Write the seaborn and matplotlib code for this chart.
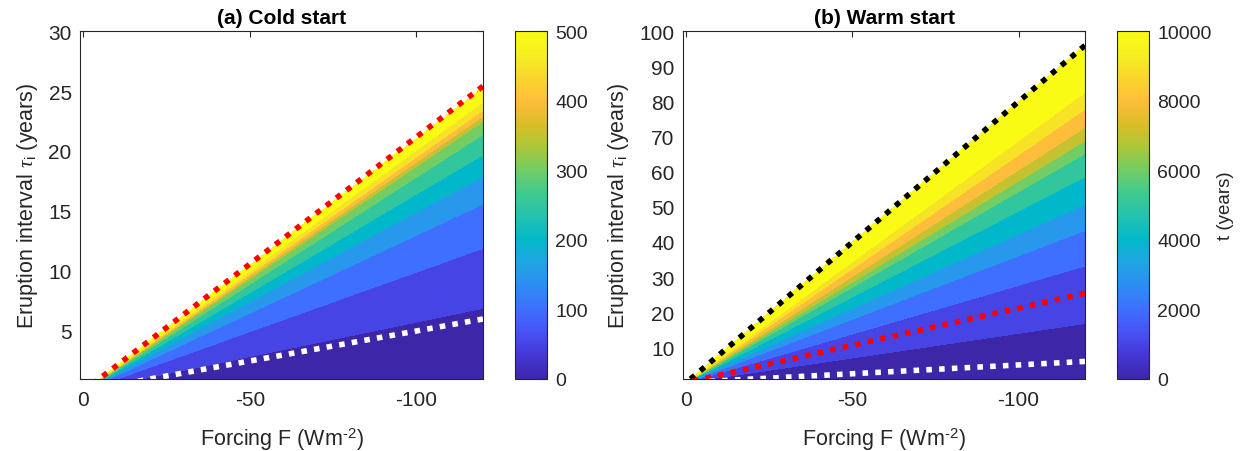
import numpy as np
import matplotlib
matplotlib.use("Agg")
import matplotlib.pyplot as plt
import seaborn as sns
from matplotlib.colors import LinearSegmentedColormap, Normalize
from matplotlib.cm import ScalarMappable

sns.set_theme(style="white")
plt.rcParams['font.family'] = ['Liberation Sans', 'DejaVu Sans']
plt.rcParams['axes.unicode_minus'] = False
plt.rcParams['mathtext.fontset'] = 'custom'
plt.rcParams['mathtext.rm'] = 'Liberation Sans'
plt.rcParams['mathtext.it'] = 'Liberation Serif:italic'

# contour levels and the tau where each level meets the right edge (F = -120)
f_edge = -120
levels_cold = [50, 100, 150, 200, 250, 300, 350, 400, 450, 500]
tau_edge_cold = [6.9, 11.9, 15.6, 17.9, 19.7, 21.4, 22.5, 22.9, 23.4, 24.1]
tau_top_cold = 25.3

levels_warm = [1000, 2000, 3000, 4000, 5000, 6000, 7000, 8000, 9000, 10000]
tau_edge_warm = [16.8, 33.2, 43.3, 50.7, 58.6, 65.2, 68.8, 72.6, 77.8, 82.6]
tau_top_warm = 95.9

# threshold lines, all through the origin
line_F = [0, -120]
black_tau = [0, 95.9]
red_tau = [0, 25.4]
white_tau = [0, 6.0]

# parula (subsampled)
parula_pts = [
    (0.2422, 0.1504, 0.6603), (0.2706, 0.2147, 0.8364), (0.2810, 0.3228, 0.9579),
    (0.2440, 0.4358, 0.9988), (0.1764, 0.5499, 0.9520), (0.1248, 0.6459, 0.8883),
    (0.0036, 0.7203, 0.7917), (0.1408, 0.7584, 0.6842), (0.2470, 0.7918, 0.5567),
    (0.4456, 0.8024, 0.3909), (0.6720, 0.7793, 0.2227), (0.8634, 0.7406, 0.1596),
    (0.9956, 0.7434, 0.2371), (0.9786, 0.8386, 0.1766), (0.9628, 0.9373, 0.1265),
    (0.9769, 0.9839, 0.0805),
]
parula = LinearSegmentedColormap.from_list("parula", parula_pts, N=256)
band_colors = [parula(i / 10) for i in range(11)]

F = np.linspace(-120, -0.01, 800)
tau = np.linspace(1, 100, 800)
FF, TT = np.meshgrid(F, tau)
ratio = TT / -FF


def field(levels, tau_edge, tau_top):
    xp = np.r_[0, np.array(tau_edge) / -f_edge, tau_top / -f_edge]
    fp = np.r_[0, levels, levels[-1] * 1.2]
    t = np.interp(ratio, xp, fp)
    return np.ma.masked_where(ratio > tau_top / -f_edge, t)


txt = (0.15, 0.15, 0.15)
fig = plt.figure(figsize=(12.48, 4.52), dpi=100)
ax1 = fig.add_axes([0.0641, 0.1593, 0.3229, 0.7699])
cax1 = fig.add_axes([0.4127, 0.1593, 0.0256, 0.7699])
ax2 = fig.add_axes([0.5473, 0.1593, 0.3221, 0.7699])
cax2 = fig.add_axes([0.8950, 0.1593, 0.0256, 0.7699])

panels = [
    (ax1, cax1, levels_cold, tau_edge_cold, tau_top_cold, "(a) Cold start", 30, 500),
    (ax2, cax2, levels_warm, tau_edge_warm, tau_top_warm, "(b) Warm start", 100, 10000),
]

for ax, cax, levels, tau_edge, tau_top, title, ymax, vmax in panels:
    t = field(levels, tau_edge, tau_top)
    ax.contourf(FF, TT, t, levels=[0] + levels + [levels[-1] * 10], colors=band_colors)
    ax.set_xlim(1, -120)
    ax.set_ylim(1, ymax)
    ax.set_xticks([0, -50, -100])
    if ymax == 30:
        ax.set_yticks([5, 10, 15, 20, 25, 30])
    else:
        ax.set_yticks(range(10, 101, 10))
    ax.set_title(title, fontsize=15, fontweight="bold", color="black", pad=6)
    ax.set_xlabel(r"Forcing F (Wm$^{\text{-2}}$)", fontsize=15.5, color=txt, labelpad=12)
    ax.set_ylabel(r"Eruption interval $\tau_{\rm i}$ (years)", fontsize=15.5, color=txt, labelpad=6)
    ax.tick_params(direction="in", top=True, right=True, length=4, width=0.8,
                   labelsize=15, colors=txt)
    ax.tick_params(axis="x", pad=8)
    ax.tick_params(axis="y", pad=6)
    for s in ax.spines.values():
        s.set_color(txt)
        s.set_linewidth(0.8)

    cb = fig.colorbar(ScalarMappable(norm=Normalize(0, vmax), cmap=parula), cax=cax)
    cb.set_ticks(np.linspace(0, vmax, 6))
    cax.tick_params(direction="in", length=4, width=0.8, labelsize=14, colors=txt, pad=6)
    cb.outline.set_edgecolor(txt)
    cb.outline.set_linewidth(0.8)

dots = (0, (1.0, 1.3))
lw = 4.0
sns.lineplot(x=line_F, y=red_tau, ax=ax1, color="red", lw=lw, linestyle=dots)
sns.lineplot(x=line_F, y=white_tau, ax=ax1, color="white", lw=lw, linestyle=dots)
sns.lineplot(x=line_F, y=black_tau, ax=ax2, color="black", lw=lw, linestyle=dots)
sns.lineplot(x=line_F, y=red_tau, ax=ax2, color="red", lw=lw, linestyle=dots)
sns.lineplot(x=line_F, y=white_tau, ax=ax2, color="white", lw=lw, linestyle=dots)
for ax in (ax1, ax2):
    ax.set_xlim(1, -120)

cax2.set_ylabel("t (years)", fontsize=13.5, color=txt, labelpad=4)

fig.savefig("out.png", dpi=100)
